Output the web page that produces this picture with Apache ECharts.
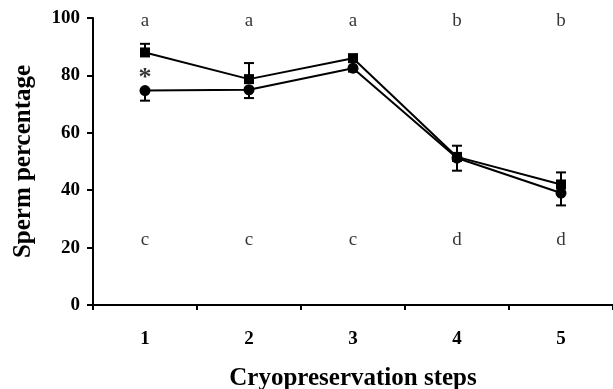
<!DOCTYPE html>
<html><head><meta charset="utf-8">
<script src="https://cdn.jsdelivr.net/npm/echarts@6/dist/echarts.min.js"></script>
<style>html,body{margin:0;padding:0;background:#fff}#c{width:613px;height:389px}</style>
</head><body><div id="c"></div>
<script>
var categories = ['1','2','3','4','5'];
var squareMean = [88, 78.7, 86, 51.6, 42];
var squareErrUp = [3, 5.6, 1.2, 3.9, 4.2];
var circleMean = [74.7, 75, 82.5, 51.2, 39];
var circleErrDown = [3.5, 2.9, 1.2, 4.4, 4.3];
var topLetters = ['a','a','a','b','b'];
var bottomLetters = ['c','c','c','d','d'];
var topLetterY = 99;
var bottomLetterY = 22.5;
var asteriskCat = '1';
var asteriskY = 79;
var yTicks = [0, 20, 40, 60, 80, 100];

var FONT = '"Liberation Serif", "Times New Roman", serif';
var chart = echarts.init(document.getElementById('c'));

function errData(means, errs, dir) {
  return means.map(function (m, i) {
    return [i, m, dir > 0 ? m + errs[i] : m - errs[i]];
  });
}
function renderErr(params, api) {
  var x = api.value(0);
  var p0 = api.coord([x, api.value(1)]);
  var p1 = api.coord([x, api.value(2)]);
  var w = 5;
  var st = {stroke: '#000', lineWidth: 2};
  return {type: 'group', children: [
    {type: 'line', shape: {x1: p0[0], y1: p0[1], x2: p1[0], y2: p1[1]}, style: st},
    {type: 'line', shape: {x1: p1[0] - w, y1: p1[1], x2: p1[0] + w, y2: p1[1]}, style: st}
  ]};
}

var option = {
  animation: false,
  backgroundColor: '#fff',
  grid: {left: 93, right: 0, top: 18, bottom: 84, containLabel: false, outerBoundsMode: 'none'},
  xAxis: {
    type: 'category', data: categories, boundaryGap: true,
    axisLine: {lineStyle: {color: '#000', width: 2}},
    axisTick: {show: true, length: 5, lineStyle: {color: '#000', width: 2}},
    axisLabel: {color: '#000', fontFamily: FONT, fontWeight: 'bold', fontSize: 19, margin: 25},
    name: 'Cryopreservation steps', nameLocation: 'middle', nameGap: 61,
    nameTextStyle: {color: '#000', fontFamily: FONT, fontWeight: 'bold', fontSize: 25}
  },
  yAxis: {
    type: 'value', min: 0, max: 100, interval: 20,
    axisLine: {show: true, lineStyle: {color: '#000', width: 2}},
    axisTick: {show: true, length: 6, lineStyle: {color: '#000', width: 2}},
    splitLine: {show: false},
    axisLabel: {color: '#000', fontFamily: FONT, fontWeight: 'bold', fontSize: 19, margin: 13,
      formatter: function (v) { return yTicks.indexOf(v) >= 0 ? String(v) : ''; }},
    name: 'Sperm percentage', nameLocation: 'middle', nameGap: 57,
    nameTextStyle: {color: '#000', fontFamily: FONT, fontWeight: 'bold', fontSize: 25}
  },
  series: [
    {type: 'custom', renderItem: renderErr, data: errData(squareMean, squareErrUp, 1), z: 3},
    {type: 'custom', renderItem: renderErr, data: errData(circleMean, circleErrDown, -1), z: 3},
    {type: 'line', data: squareMean, symbol: 'rect', symbolSize: 10,
      lineStyle: {color: '#000', width: 2}, itemStyle: {color: '#000'}, z: 4},
    {type: 'line', data: circleMean, symbol: 'circle', symbolSize: 11,
      lineStyle: {color: '#000', width: 2}, itemStyle: {color: '#000'}, z: 4},
    {type: 'scatter', symbolSize: 0, z: 5,
      data: categories.map(function (c, i) { return {value: [c, topLetterY], name: topLetters[i]}; }),
      label: {show: true, position: 'inside', formatter: '{b}', color: '#000', fontFamily: FONT, fontSize: 19}},
    {type: 'scatter', symbolSize: 0, z: 5,
      data: categories.map(function (c, i) { return {value: [c, bottomLetterY], name: bottomLetters[i]}; }),
      label: {show: true, position: 'inside', formatter: '{b}', color: '#000', fontFamily: FONT, fontSize: 19}},
    {type: 'scatter', symbolSize: 0, z: 5,
      data: [{value: [asteriskCat, asteriskY], name: '*'}],
      label: {show: true, position: 'inside', formatter: '{b}', color: '#000', fontFamily: FONT, fontWeight: 'bold', fontSize: 26}}
  ]
};
chart.setOption(option);
</script>
</body></html>
